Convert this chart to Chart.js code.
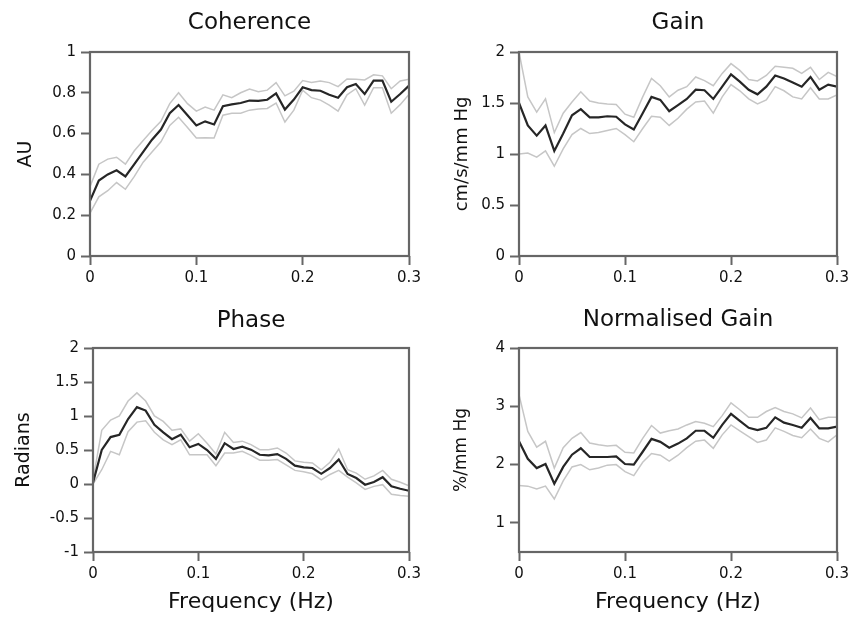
<!DOCTYPE html>
<html>
<head>
<meta charset="utf-8">
<script src="https://cdn.jsdelivr.net/npm/chart.js@4.4.1/dist/chart.umd.min.js"></script>
<style>
  body { margin: 0; background: #fff; }
  #wrap { position: relative; width: 860px; height: 617px; overflow: hidden; background: #fff; }
  #wrap canvas { position: absolute; }
</style>
</head>
<body>
<div id="wrap">
  <canvas id="coherence" width="430" height="300" style="left:0;top:0"></canvas>
  <canvas id="gain" width="430" height="300" style="left:430px;top:0"></canvas>
  <canvas id="phase" width="430" height="317" style="left:0;top:300px"></canvas>
  <canvas id="normGain" width="430" height="317" style="left:430px;top:300px"></canvas>
</div>
<script>
// ---------------------------------------------------------------------------
// Data (mean and upper/lower confidence bounds)
// ---------------------------------------------------------------------------
const frequencies = [0, 0.0083, 0.0167, 0.025, 0.0333, 0.0417, 0.05, 0.0583, 0.0667, 0.075,
  0.0833, 0.0917, 0.1, 0.1083, 0.1167, 0.125, 0.1333, 0.1417, 0.15, 0.1583,
  0.1667, 0.175, 0.1833, 0.1917, 0.2, 0.2083, 0.2167, 0.225, 0.2333, 0.2417,
  0.25, 0.2583, 0.2667, 0.275, 0.2833, 0.2917, 0.3];
const xTickValues = [0, 0.1, 0.2, 0.3];

const coherenceMean = [0.27, 0.37, 0.40, 0.42, 0.39, 0.45, 0.51, 0.57, 0.62, 0.70, 0.74, 0.69, 0.64, 0.66, 0.645, 0.734, 0.743, 0.75, 0.762, 0.76, 0.766, 0.797, 0.718, 0.767, 0.827, 0.813, 0.81, 0.79, 0.776, 0.827, 0.843, 0.794, 0.86, 0.86, 0.756, 0.794, 0.835];
const coherenceUpper = [0.34, 0.45, 0.475, 0.484, 0.45, 0.516, 0.566, 0.615, 0.66, 0.747, 0.80, 0.747, 0.71, 0.73, 0.715, 0.79, 0.776, 0.80, 0.818, 0.805, 0.813, 0.85, 0.785, 0.808, 0.86, 0.85, 0.858, 0.85, 0.83, 0.868, 0.866, 0.863, 0.888, 0.883, 0.82, 0.858, 0.866];
const coherenceLower = [0.21, 0.29, 0.32, 0.36, 0.327, 0.39, 0.46, 0.51, 0.56, 0.64, 0.68, 0.63, 0.578, 0.58, 0.578, 0.69, 0.70, 0.70, 0.715, 0.72, 0.723, 0.75, 0.657, 0.715, 0.813, 0.776, 0.764, 0.74, 0.71, 0.79, 0.82, 0.74, 0.825, 0.825, 0.70, 0.742, 0.792];
const coherenceTicks = [0, 0.2, 0.4, 0.6, 0.8, 1];

const gainMean = [1.50, 1.28, 1.18, 1.28, 1.03, 1.20, 1.38, 1.44, 1.36, 1.36, 1.37, 1.365, 1.29, 1.24, 1.40, 1.56, 1.53, 1.42, 1.48, 1.54, 1.63, 1.625, 1.54, 1.66, 1.78, 1.71, 1.63, 1.585, 1.66, 1.77, 1.74, 1.70, 1.66, 1.755, 1.63, 1.68, 1.66];
const gainUpper = [2.0, 1.56, 1.41, 1.54, 1.21, 1.40, 1.51, 1.61, 1.52, 1.50, 1.49, 1.485, 1.39, 1.36, 1.56, 1.74, 1.67, 1.56, 1.625, 1.66, 1.755, 1.72, 1.67, 1.79, 1.886, 1.82, 1.73, 1.716, 1.77, 1.86, 1.85, 1.84, 1.79, 1.85, 1.73, 1.80, 1.76];
const gainLower = [1.00, 1.01, 0.97, 1.03, 0.88, 1.05, 1.19, 1.25, 1.20, 1.21, 1.23, 1.25, 1.19, 1.12, 1.25, 1.37, 1.36, 1.28, 1.35, 1.44, 1.51, 1.52, 1.40, 1.56, 1.68, 1.62, 1.54, 1.49, 1.53, 1.66, 1.62, 1.56, 1.54, 1.65, 1.54, 1.54, 1.58];
const gainTicks = [0, 0.5, 1, 1.5, 2];

const phaseMean = [0.02, 0.50, 0.69, 0.725, 0.955, 1.13, 1.08, 0.87, 0.76, 0.66, 0.725, 0.54, 0.59, 0.50, 0.37, 0.60, 0.515, 0.55, 0.505, 0.43, 0.42, 0.44, 0.37, 0.27, 0.245, 0.235, 0.15, 0.235, 0.36, 0.147, 0.088, -0.01, 0.03, 0.10, -0.035, -0.07, -0.10];
const phaseUpper = [0.06, 0.79, 0.94, 1.0, 1.22, 1.34, 1.22, 1.0, 0.92, 0.79, 0.81, 0.63, 0.74, 0.60, 0.44, 0.76, 0.61, 0.63, 0.58, 0.505, 0.505, 0.53, 0.455, 0.34, 0.32, 0.31, 0.21, 0.32, 0.515, 0.21, 0.16, 0.07, 0.12, 0.20, 0.07, 0.025, -0.025];
const phaseLower = [0.0, 0.21, 0.48, 0.43, 0.77, 0.91, 0.93, 0.76, 0.65, 0.58, 0.65, 0.43, 0.43, 0.43, 0.27, 0.455, 0.455, 0.48, 0.42, 0.35, 0.35, 0.36, 0.28, 0.20, 0.18, 0.15, 0.06, 0.14, 0.20, 0.10, 0.015, -0.08, -0.035, -0.01, -0.15, -0.17, -0.18];
const phaseTicks = [-1, -0.5, 0, 0.5, 1, 1.5, 2];

const normGainMean = [2.40, 2.10, 1.94, 2.01, 1.67, 1.96, 2.17, 2.28, 2.13, 2.13, 2.13, 2.14, 2.01, 2.0, 2.22, 2.44, 2.39, 2.29, 2.36, 2.45, 2.58, 2.58, 2.46, 2.68, 2.87, 2.75, 2.63, 2.59, 2.63, 2.81, 2.72, 2.68, 2.63, 2.80, 2.62, 2.62, 2.65];
const normGainUpper = [3.20, 2.57, 2.30, 2.40, 1.94, 2.29, 2.45, 2.55, 2.37, 2.34, 2.32, 2.33, 2.21, 2.20, 2.45, 2.67, 2.54, 2.58, 2.61, 2.68, 2.74, 2.71, 2.65, 2.84, 3.06, 2.94, 2.81, 2.81, 2.91, 2.98, 2.91, 2.87, 2.80, 2.97, 2.77, 2.81, 2.81];
const normGainLower = [1.64, 1.63, 1.58, 1.63, 1.41, 1.72, 1.96, 2.0, 1.91, 1.94, 1.99, 2.0, 1.88, 1.81, 2.04, 2.19, 2.16, 2.06, 2.16, 2.29, 2.40, 2.42, 2.28, 2.51, 2.68, 2.58, 2.48, 2.38, 2.42, 2.63, 2.57, 2.50, 2.46, 2.61, 2.45, 2.39, 2.51];
const normGainTicks = [1, 2, 3, 4];

// ---------------------------------------------------------------------------
// Styling
// ---------------------------------------------------------------------------
const FONT = 'DejaVu Sans';
const MEAN_COLOR = '#262626';
const CI_COLOR = '#c6c6c6';
const AXIS_COLOR = '#666666';
const TEXT_COLOR = '#111111';

// box around the plotting area
const framePlugin = {
  id: 'frame',
  afterDatasetsDraw(chart) {
    const { ctx, chartArea: a } = chart;
    ctx.save();
    ctx.strokeStyle = AXIS_COLOR;
    ctx.lineWidth = 2.2;
    ctx.strokeRect(a.left, a.top, a.right - a.left, a.bottom - a.top);
    ctx.restore();
  }
};

function toPoints(values) {
  return frequencies.map((f, i) => ({ x: f, y: values[i] }));
}

function lineDataset(label, values, color, width, order) {
  return {
    label: label,
    data: toPoints(values),
    borderColor: color,
    borderWidth: width,
    pointRadius: 0,
    tension: 0,
    fill: false,
    order: order
  };
}

/**
 * Render one panel (mean line with upper/lower bounds)
 */
function renderPanel(canvasId, cfg) {
  const ctx = document.getElementById(canvasId).getContext('2d');

  const xTitle = cfg.xTitle
    ? { display: true, text: cfg.xTitle, color: TEXT_COLOR, font: { family: FONT, size: 22 }, padding: { top: 0, bottom: 2 } }
    : { display: false };

  return new Chart(ctx, {
    type: 'line',
    data: {
      datasets: [
        lineDataset('Mean', cfg.mean, MEAN_COLOR, 2.2, 0),
        lineDataset('Upper', cfg.upper, CI_COLOR, 1.5, 1),
        lineDataset('Lower', cfg.lower, CI_COLOR, 1.5, 1)
      ]
    },
    options: {
      responsive: false,
      animation: false,
      devicePixelRatio: 1,
      layout: { padding: { left: 0, right: cfg.padRight, top: 0, bottom: 0 } },
      plugins: {
        legend: { display: false },
        tooltip: { enabled: false },
        title: {
          display: true,
          text: cfg.title,
          fullSize: false,
          color: TEXT_COLOR,
          font: { family: FONT, size: 23, weight: 'normal' },
          padding: cfg.titlePad
        }
      },
      scales: {
        x: {
          type: 'linear',
          min: 0,
          max: 0.3,
          afterBuildTicks: scale => { scale.ticks = xTickValues.map(v => ({ value: v })); },
          afterFit: scale => { scale.height = cfg.xHeight; },
          border: { display: false },
          grid: { drawOnChartArea: false, drawTicks: true, tickLength: 9, tickWidth: 2, tickColor: AXIS_COLOR },
          ticks: {
            padding: 4,
            color: TEXT_COLOR,
            font: { family: FONT, size: 15 },
            maxRotation: 0,
            callback: value => String(value)
          },
          title: xTitle
        },
        y: {
          min: cfg.yMin,
          max: cfg.yMax,
          afterBuildTicks: scale => { scale.ticks = cfg.yTicks.map(v => ({ value: v })); },
          afterFit: scale => { scale.width = cfg.yWidth; },
          border: { display: false },
          grid: { drawOnChartArea: false, drawTicks: true, tickLength: 9, tickWidth: 2, tickColor: AXIS_COLOR },
          ticks: {
            padding: 5,
            color: TEXT_COLOR,
            font: { family: FONT, size: 15 },
            callback: value => String(value)
          },
          title: {
            display: true,
            text: cfg.yTitle,
            color: TEXT_COLOR,
            font: { family: FONT, size: cfg.yTitleSize },
            padding: { top: cfg.yTitlePad, bottom: 0 }
          }
        }
      }
    },
    plugins: [framePlugin]
  });
}

renderPanel('coherence', {
  title: 'Coherence', yTitle: 'AU', yTitleSize: 19, yTitlePad: 15,
  mean: coherenceMean, upper: coherenceUpper, lower: coherenceLower,
  yMin: 0, yMax: 1, yTicks: coherenceTicks,
  yWidth: 90, padRight: 21, xHeight: 44, titlePad: { top: 9.2, bottom: 15.2 }
});

renderPanel('gain', {
  title: 'Gain', yTitle: 'cm/s/mm Hg', yTitleSize: 18, yTitlePad: 22,
  mean: gainMean, upper: gainUpper, lower: gainLower,
  yMin: 0, yMax: 2, yTicks: gainTicks,
  yWidth: 89, padRight: 23, xHeight: 44, titlePad: { top: 9.2, bottom: 15.2 }
});

renderPanel('phase', {
  title: 'Phase', yTitle: 'Radians', yTitleSize: 19, yTitlePad: 13, xTitle: 'Frequency (Hz)',
  mean: phaseMean, upper: phaseUpper, lower: phaseLower,
  yMin: -1, yMax: 2, yTicks: phaseTicks,
  yWidth: 93, padRight: 21, xHeight: 65, titlePad: { top: 7.2, bottom: 13.2 }
});

renderPanel('normGain', {
  title: 'Normalised Gain', yTitle: '%/mm Hg', yTitleSize: 17, yTitlePad: 21, xTitle: 'Frequency (Hz)',
  mean: normGainMean, upper: normGainUpper, lower: normGainLower,
  yMin: 0.5, yMax: 4, yTicks: normGainTicks,
  yWidth: 89, padRight: 23, xHeight: 65, titlePad: { top: 6, bottom: 14.4 }
});
</script>
</body>
</html>
